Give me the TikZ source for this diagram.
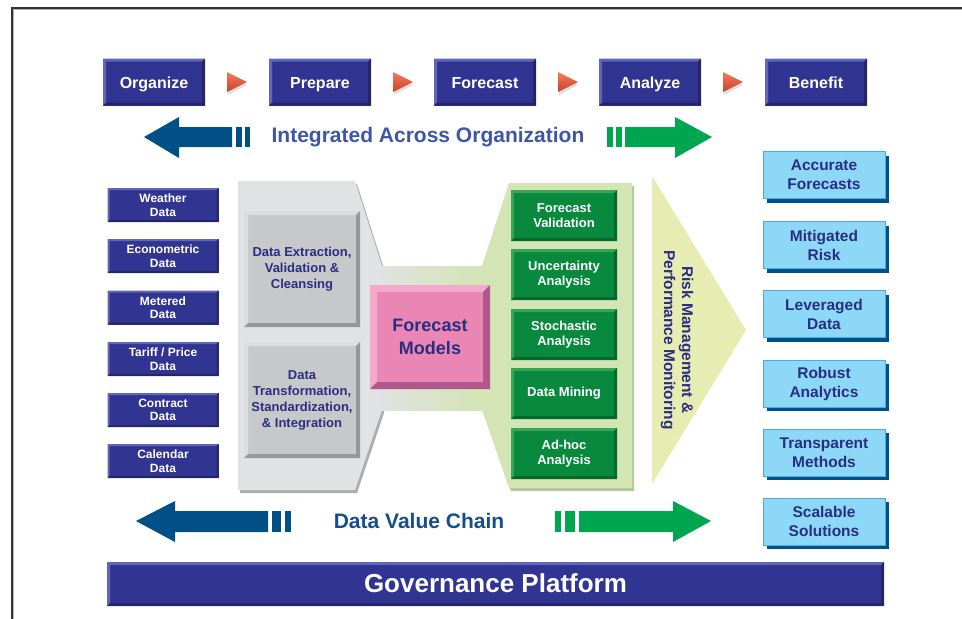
\documentclass[tikz,border=0pt]{standalone}
\usepackage{fontspec}
\setmainfont{Liberation Sans}
\usetikzlibrary{shadows}

\definecolor{stepblue}{RGB}{49,53,145}
\definecolor{steplight}{RGB}{96,102,184}
\definecolor{stepdark}{RGB}{36,38,105}
\definecolor{pointertop}{RGB}{246,122,86}
\definecolor{pointerbot}{RGB}{200,68,44}
\definecolor{backblue}{RGB}{0,79,134}
\definecolor{forwardgreen}{RGB}{0,165,80}
\definecolor{headline}{RGB}{62,86,166}
\definecolor{chaintext}{RGB}{22,78,140}
\definecolor{navy}{RGB}{42,46,130}
\definecolor{panelgray}{RGB}{225,226,228}
\definecolor{panelgrayshadow}{RGB}{172,173,175}
\definecolor{cleanfill}{RGB}{199,200,202}
\definecolor{cleanlight}{RGB}{220,221,223}
\definecolor{cleandark}{RGB}{150,151,153}
\definecolor{panelgreen}{RGB}{211,229,180}
\definecolor{panelgreenshadow}{RGB}{182,199,152}
\definecolor{modelpink}{RGB}{233,134,180}
\definecolor{modellight}{RGB}{245,168,204}
\definecolor{modeldark}{RGB}{176,88,140}
\definecolor{methodgreen}{RGB}{8,137,62}
\definecolor{methodlight}{RGB}{55,165,85}
\definecolor{methoddark}{RGB}{5,105,45}
\definecolor{riskyellow}{RGB}{231,236,178}
\definecolor{benefitfill}{RGB}{141,216,247}
\definecolor{benefitedge}{RGB}{80,170,225}
\definecolor{benefitshadow}{RGB}{0,80,138}

\begin{document}
\begin{tikzpicture}[
    x = 1pt,
    y = -1pt,
    bevel/.style n args = {4}{
        fill = #1,
        path picture = {
            \coordinate (sw) at (path picture bounding box.south west);
            \coordinate (ne) at (path picture bounding box.north east);
            \fill[#2] (sw) |- (ne) -- ++(-#4,-#4) -| ([shift={(#4,#4)}]sw) -- cycle;
            \fill[#3] (sw) -| (ne) -- ++(-#4,-#4) |- ([shift={(#4,#4)}]sw) -- cycle;
        }
    },
    stepbox/.style = {
        bevel = {stepblue}{steplight}{stepdark}{3pt},
        minimum width = 102,
        minimum height = 47,
        inner sep = 0pt,
        text height = 13pt,
        text depth = 1pt,
        text = white,
        font = \fontsize{16}{18}\selectfont\bfseries
    },
    sourcebox/.style = {
        bevel = {stepblue}{steplight}{stepdark}{2pt},
        minimum width = 111,
        minimum height = 34,
        inner sep = 0pt,
        align = center,
        text = white,
        font = \fontsize{12}{13.5}\selectfont\bfseries
    },
    cleanbox/.style = {
        bevel = {cleanfill}{cleanlight}{cleandark}{4pt},
        minimum width = 116,
        minimum height = 116,
        inner sep = 0pt,
        align = center,
        text = navy,
        font = \fontsize{13}{16}\selectfont\bfseries
    },
    modelbox/.style = {
        bevel = {modelpink}{modellight}{modeldark}{7pt},
        minimum width = 120,
        minimum height = 104,
        inner sep = 0pt,
        align = center,
        text = navy,
        font = \fontsize{18}{23}\selectfont\bfseries
    },
    methodbox/.style = {
        bevel = {methodgreen}{methodlight}{methoddark}{3pt},
        minimum width = 106,
        minimum height = 51,
        inner sep = 0pt,
        align = center,
        text = white,
        font = \fontsize{13}{15.7}\selectfont\bfseries
    },
    benefitbox/.style = {
        fill = benefitfill,
        draw = benefitedge,
        line width = 1pt,
        drop shadow = {shadow xshift = 4pt, shadow yshift = -4pt,
                       fill = benefitshadow, opacity = 1},
        minimum width = 122,
        minimum height = 47,
        inner sep = 0pt,
        align = center,
        text = navy,
        font = \fontsize{15.5}{19}\selectfont\bfseries
    },
    pointer/.style = {top color = pointertop, bottom color = pointerbot}
]

\useasboundingbox (0,0) rectangle (962,619);

% Frame
\draw[line width = 1.5pt, black!80] (12,619) -- (12,8) -- (962,8);
\draw[line width = 1pt, black!30] (13.5,619) -- (13.5,9.5) -- (962,9.5);

% Process steps
\node[stepbox] (organize) at (154,82) {Organize};
\node[stepbox] (prepare)  at (320,82) {Prepare};
\node[stepbox] (forecast) at (485,82) {Forecast};
\node[stepbox] (analyze)  at (650,82) {Analyze};
\node[stepbox] (benefit)  at (816,82) {Benefit};

% Pointers between the steps
\foreach \px in {237,403,568,733} {
    \fill[black!25, opacity = .5] (\px-9,74) -- (\px+10,85) -- (\px-9,95) -- cycle;
    \shade[pointer] (\px-10,72) -- (\px+10,82) -- (\px-10,92) -- cycle;
}

% Integrated across organization
\node[text = headline, font = \fontsize{21}{24}\selectfont\bfseries] (integrated) at (428,137) {Integrated Across Organization};
\fill[backblue] (144,137) -- (179,117) -- (179,127) -- (232,127) -- (232,147) -- (179,147) -- (179,158) -- cycle;
\fill[backblue] (236,127) rectangle (242,147);
\fill[backblue] (245,127) rectangle (250,147);
\fill[forwardgreen] (607,127) rectangle (613,147);
\fill[forwardgreen] (616,127) rectangle (622,147);
\fill[forwardgreen] (625,127) -- (675,127) -- (675,117) -- (712,137) -- (675,158) -- (675,147) -- (625,147) -- cycle;

% Data sources
\node[sourcebox] (weather)     at (163,205)   {Weather\\Data};
\node[sourcebox] (econometric) at (163,256)   {Econometric\\Data};
\node[sourcebox] (metered)     at (163,307.5) {Metered\\Data};
\node[sourcebox] (tariff)      at (163,359)   {Tariff / Price\\Data};
\node[sourcebox] (contract)    at (163,410)   {Contract\\Data};
\node[sourcebox] (calendar)    at (163,461)   {Calendar\\Data};

% Data preparation panel
\fill[panelgrayshadow] (240,184) -- (357,184) -- (384,269) -- (384,413) -- (357,493) -- (240,493) -- cycle;
\fill[panelgray] (238,181) -- (355,181) -- (382,266) -- (382,410) -- (355,490) -- (238,490) -- cycle;

% Analysis panel
\fill[panelgreenshadow] (511,186) -- (634,186) -- (634,491) -- (511,491) -- (484,413) -- (484,269) -- cycle;
\fill[panelgreen] (509,183) -- (632,183) -- (632,488) -- (509,488) -- (482,410) -- (482,266) -- cycle;

% Band through the forecast models
\shade[left color = panelgray!90!panelgreen, middle color = panelgreen!60!white, right color = panelgreen] (382,266) rectangle (483,410);

\node[cleanbox] (extraction) at (302,269) {Data Extraction,\\Validation \&\\Cleansing};
\node[cleanbox] (transform)  at (302,400) {Data\\Transformation,\\Standardization,\\\& Integration};

\node[modelbox] (models) at (430,337) {Forecast\\Models};

\node[methodbox] (validation)  at (564,215.5) {Forecast\\Validation};
\node[methodbox] (uncertainty) at (564,274.5) {Uncertainty\\Analysis};
\node[methodbox] (stochastic)  at (564,334.5) {Stochastic\\Analysis};
\node[methodbox] (mining)      at (564,393.5) {Data Mining};
\node[methodbox] (adhoc)       at (564,453.5) {Ad-hoc\\Analysis};

% Risk management wedge
\fill[riskyellow] (652,176) -- (746,330) -- (652,484) -- cycle;
\node[rotate = -90, align = center, text = navy, font = \fontsize{15.5}{18}\selectfont\bfseries] (risk) at (677,340) {Risk Management \&\\Performance Monitoring};

% Benefits
\node[benefitbox] (accurate)    at (824,175)   {Accurate\\Forecasts};
\node[benefitbox] (mitigated)   at (824,245)   {Mitigated\\Risk};
\node[benefitbox] (leveraged)   at (824,314)   {Leveraged\\Data};
\node[benefitbox] (robust)      at (824,383.5) {Robust\\Analytics};
\node[benefitbox] (transparent) at (824,452.5) {Transparent\\Methods};
\node[benefitbox] (scalable)    at (824,521.5) {Scalable\\Solutions};

% Data value chain
\node[text = chaintext, font = \fontsize{21}{24}\selectfont\bfseries] (chain) at (419,521) {Data Value Chain};
\fill[backblue] (136,521) -- (175,501) -- (175,511) -- (268,511) -- (268,532) -- (175,532) -- (175,542) -- cycle;
\fill[backblue] (272,511) rectangle (281,532);
\fill[backblue] (285,511) rectangle (291,532);
\fill[forwardgreen] (555,511) rectangle (561,532);
\fill[forwardgreen] (565,511) rectangle (575,532);
\fill[forwardgreen] (579,511) -- (673,511) -- (673,501) -- (711,521) -- (673,542) -- (673,532) -- (579,532) -- cycle;

% Governance platform
\node[bevel = {stepblue}{steplight}{stepdark}{3pt}, minimum width = 777, minimum height = 44, inner sep = 0pt, text height = 19pt, text depth = 3pt, text = white, font = \fontsize{26}{30}\selectfont\bfseries] (platform) at (495.5,584) {Governance Platform};

\end{tikzpicture}
\end{document}
